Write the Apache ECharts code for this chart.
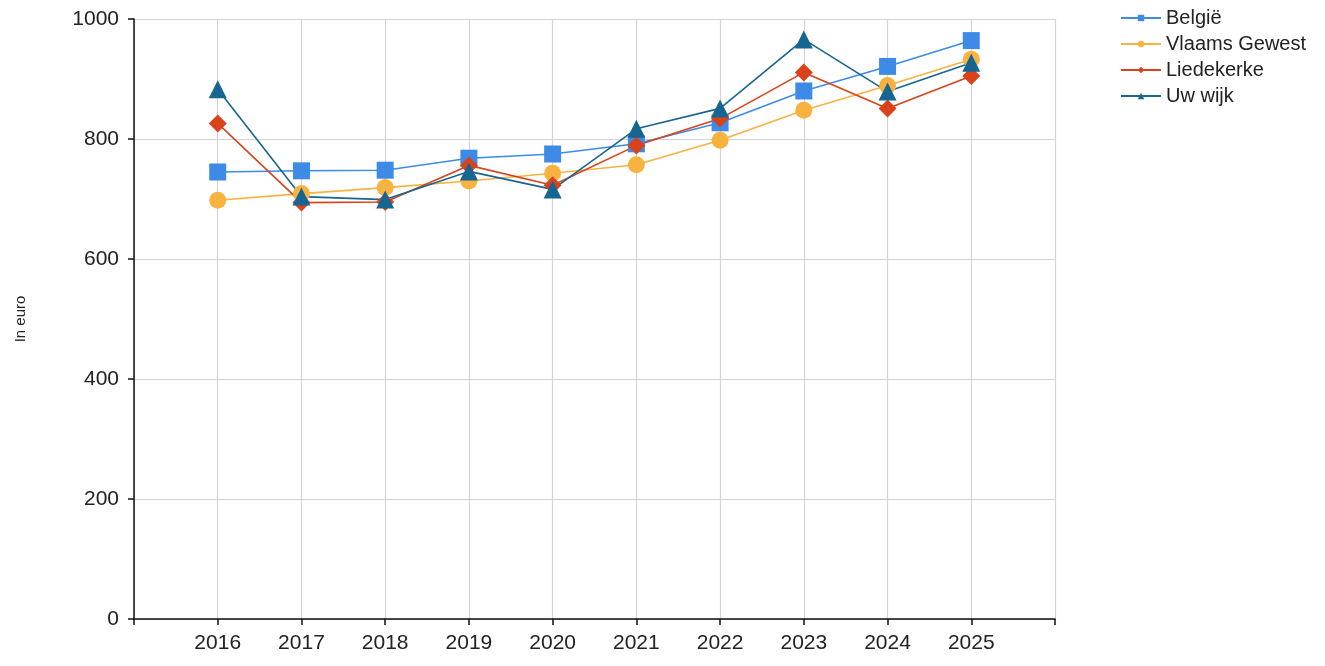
<!DOCTYPE html>
<html>
<head>
<meta charset="utf-8">
<script src="https://cdn.jsdelivr.net/npm/echarts@6/dist/echarts.min.js"></script>
<style>
html,body{margin:0;padding:0;background:#fff;}
#chart{width:1325px;height:666px;}
</style>
</head>
<body>
<div id="chart"></div>
<script>
const years = [2016, 2017, 2018, 2019, 2020, 2021, 2022, 2023, 2024, 2025];
const belgie = [745, 747, 748, 768, 775, 792, 827, 880, 921, 964];
const vlaamsGewest = [698, 709, 719, 730, 743, 757, 798, 848, 889, 933];
const liedekerke = [826, 694, 695, 756, 723, 789, 834, 911, 851, 905];
const uwWijk = [883, 704, 699, 746, 716, 817, 851, 966, 879, 927];
const yTicks = [0, 200, 400, 600, 800, 1000];

const font = 'Liberation Sans, Arial, sans-serif';
const pairs = arr => years.map((y, i) => [y, arr[i]]);

function mk(name, data, color, symbol, size) {
  return {
    name: name, type: 'line', data: pairs(data),
    symbol: symbol, symbolSize: size,
    itemStyle: {color: color},
    lineStyle: {color: color, width: 1.6},
    emphasis: {disabled: true}
  };
}

const chart = echarts.init(document.getElementById('chart'), null, {renderer: 'canvas'});
chart.setOption({
  animation: false,
  backgroundColor: '#ffffff',
  grid: {left: 134, right: 270, top: 19, bottom: 47},
  legend: {
    orient: 'vertical', left: 1115, top: 3, itemGap: 6,
    itemWidth: 40, itemHeight: 8,
    textStyle: {fontFamily: font, fontSize: 20, color: '#222'},
    data: ['België', 'Vlaams Gewest', 'Liedekerke', 'Uw wijk']
  },
  xAxis: {
    type: 'value', min: 2015, max: 2026, interval: 1,
    axisLine: {show: true, lineStyle: {color: '#111', width: 1.5}},
    axisTick: {show: true, length: 6, lineStyle: {color: '#111', width: 1.5}},
    axisLabel: {
      fontFamily: font, fontSize: 21, color: '#222', margin: 14,
      formatter: v => (years.indexOf(v) >= 0 ? String(v) : '')
    },
    splitLine: {show: true, lineStyle: {color: '#d4d4d4', width: 1.2}}
  },
  yAxis: {
    type: 'value', min: yTicks[0], max: yTicks[yTicks.length - 1], interval: 200,
    name: 'In euro', nameLocation: 'middle', nameGap: 106, nameRotate: 90,
    nameTextStyle: {fontFamily: font, fontSize: 15, color: '#222'},
    axisLine: {show: true, lineStyle: {color: '#111', width: 1.5}},
    axisTick: {show: true, length: 6, lineStyle: {color: '#111', width: 1.5}},
    axisLabel: {fontFamily: font, fontSize: 21, color: '#222', margin: 15,
      formatter: v => String(v)},
    splitLine: {show: true, lineStyle: {color: '#d4d4d4', width: 1.2}}
  },
  series: [
    mk('België', belgie, '#3d8be6', 'rect', 17),
    mk('Vlaams Gewest', vlaamsGewest, '#f8b240', 'circle', 17),
    mk('Liedekerke', liedekerke, '#d8431b', 'diamond', 18),
    mk('Uw wijk', uwWijk, '#176591', 'triangle', 18)
  ]
});
</script>
</body>
</html>
